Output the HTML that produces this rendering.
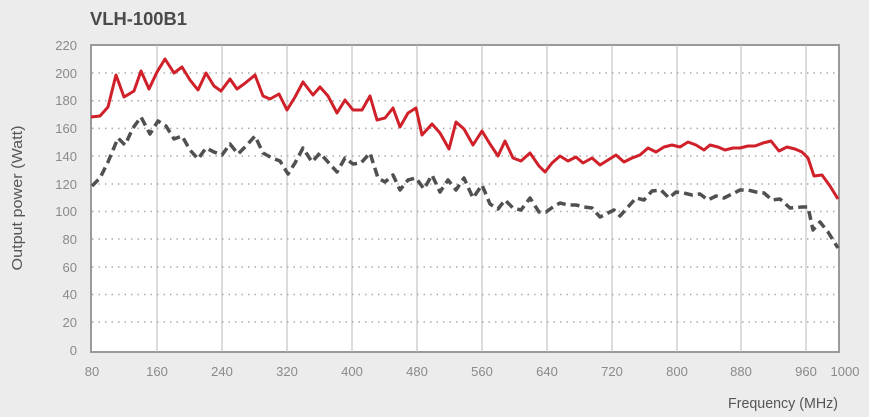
<!DOCTYPE html>
<html><head><meta charset="utf-8"><style>
body{margin:0;background:#ececec;}
svg{display:block;font-family:"Liberation Sans Narrow","Liberation Sans",sans-serif;}
</style></head><body>
<svg width="869" height="417" viewBox="0 0 869 417" xmlns="http://www.w3.org/2000/svg">
<rect width="869" height="417" fill="#ececec"/>
<text x="90" y="25" font-size="18" font-weight="bold" fill="#4a4a4a" textLength="97" lengthAdjust="spacingAndGlyphs">VLH-100B1</text>
<rect x="91" y="45" width="748" height="307" fill="#fff" stroke="#9a9a9a" stroke-width="2"/>
<g stroke="#b8b8b8" stroke-width="1">
<line x1="157" y1="45" x2="157" y2="352"/><line x1="222" y1="45" x2="222" y2="352"/><line x1="287" y1="45" x2="287" y2="352"/><line x1="352" y1="45" x2="352" y2="352"/><line x1="417" y1="45" x2="417" y2="352"/><line x1="482" y1="45" x2="482" y2="352"/><line x1="547" y1="45" x2="547" y2="352"/><line x1="612" y1="45" x2="612" y2="352"/><line x1="677" y1="45" x2="677" y2="352"/><line x1="741" y1="45" x2="741" y2="352"/><line x1="806" y1="45" x2="806" y2="352"/>
</g>
<g stroke="#aaa" stroke-width="1.5" stroke-dasharray="1.5 5">
<line x1="92" y1="73" x2="838" y2="73"/><line x1="92" y1="100.7" x2="838" y2="100.7"/><line x1="92" y1="128.4" x2="838" y2="128.4"/><line x1="92" y1="156" x2="838" y2="156"/><line x1="92" y1="184" x2="838" y2="184"/><line x1="92" y1="211.5" x2="838" y2="211.5"/><line x1="92" y1="239" x2="838" y2="239"/><line x1="92" y1="267" x2="838" y2="267"/><line x1="92" y1="294.5" x2="838" y2="294.5"/><line x1="92" y1="322" x2="838" y2="322"/>
</g>
<g font-size="13" fill="#8a8a8a" text-anchor="end">
<text x="77" y="50">220</text><text x="77" y="78">200</text><text x="77" y="105">180</text><text x="77" y="133">160</text><text x="77" y="161">140</text><text x="77" y="189">120</text><text x="77" y="216">100</text><text x="77" y="244">80</text><text x="77" y="272">60</text><text x="77" y="299">40</text><text x="77" y="327">20</text><text x="77" y="355">0</text>
</g>
<g font-size="13" fill="#8a8a8a" text-anchor="middle">
<text x="92" y="376">80</text><text x="157" y="376">160</text><text x="222" y="376">240</text><text x="287" y="376">320</text><text x="352" y="376">400</text><text x="417" y="376">480</text><text x="482" y="376">560</text><text x="547" y="376">640</text><text x="612" y="376">720</text><text x="677" y="376">800</text><text x="741" y="376">880</text><text x="806" y="376">960</text><text x="845" y="376">1000</text>
</g>
<text x="838" y="408" font-size="15" fill="#555" text-anchor="end" textLength="110" lengthAdjust="spacingAndGlyphs">Frequency (MHz)</text>
<text transform="translate(22,198) rotate(-90)" font-size="15" fill="#555" text-anchor="middle" textLength="145" lengthAdjust="spacingAndGlyphs">Output power (Watt)</text>
<polyline fill="none" stroke="#505050" stroke-width="3.5" stroke-dasharray="9 5" stroke-linejoin="round" points="92,186 100,178 108,162 118,138 125,145 133,128 141,117 150,134 158,121 166,126 174,139 182,136 190,150 198,159 206,148 214,152 222,155 230,144 238,154 246,146 255,136 263,153 272,158 280,161 288,174 295,163 303,148 312,162 320,153 328,162 337,172 345,158 353,164 361,163 370,153 378,178 385,182 393,175 400,190 408,180 416,178 424,189 432,175 440,192 448,180 456,190 464,178 473,198 482,185 490,204 498,209 505,200 513,208 521,210 530,198 539,212 546,212 553,207 560,203 568,205 576,205 584,207 592,208 600,217 608,213 614,210 620,216 628,207 636,198 644,200 652,191 661,190 669,198 676,192 684,193 692,195 700,194 708,200 716,196 724,198 732,194 740,190 748,190 756,192 764,193 772,200 780,199 790,208 802,207 808,207 813,230 820,222 828,232 838,248"/>
<polyline fill="none" stroke="#d0202a" stroke-width="3" stroke-linejoin="round" points="91,117 100,116 108,107 116,75 124,97 134,91 141,71 149,89 157,72 165,59 174,73 182,67 190,80 198,90 206,73 214,86 221,91 230,79 237,89 244,84 255,75 263,96 270,99 279,94 287,110 295,97 303,82 313,95 320,87 328,96 337,113 345,100 353,110 362,110 370,96 377,120 385,118 393,108 400,127 408,113 416,108 422,135 432,124 440,133 449,149 456,122 464,129 473,145 482,131 490,144 498,156 505,141 513,158 521,161 530,153 539,166 545,172 552,163 560,156 568,161 576,157 583,163 592,158 600,165 608,160 616,155 624,162 632,158 640,155 648,148 656,152 664,147 672,145 680,147 688,142 696,145 704,150 710,145 718,147 725,150 733,148 740,148 748,146 755,146 763,143 771,141 779,151 787,147 795,149 802,152 808,158 814,176 822,175 830,186 838,199"/>
</svg>
</body></html>
